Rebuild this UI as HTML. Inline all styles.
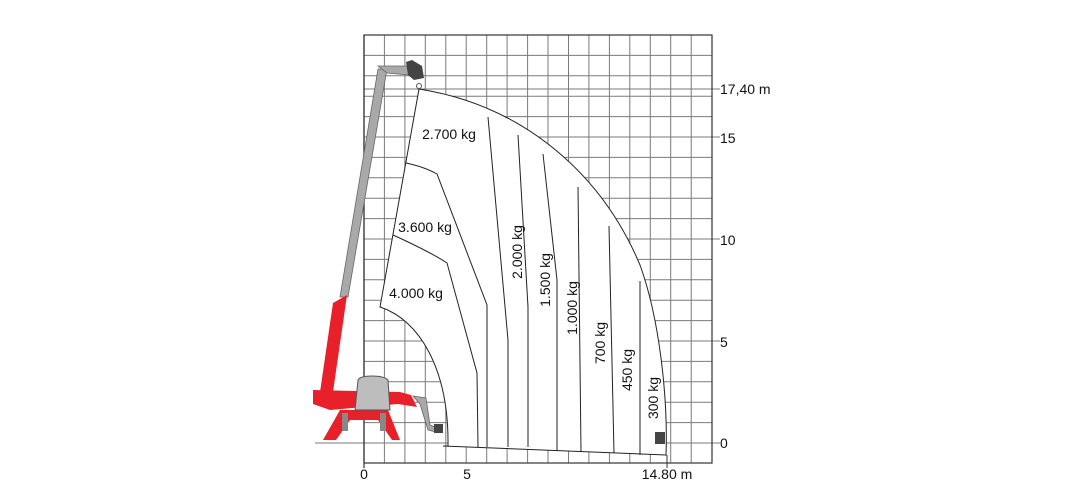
<!DOCTYPE html>
<html><head><meta charset="utf-8"><style>
html,body{margin:0;padding:0;background:#fff}
svg{display:block}
text{font-family:"Liberation Sans",Arial,sans-serif;fill:#111}
</style></head><body>
<svg width="1080" height="501" viewBox="0 0 1080 501" xmlns="http://www.w3.org/2000/svg">
<g stroke="#7a7a7a" stroke-width="1">
<line x1="384.4" y1="35" x2="384.4" y2="463"/><line x1="404.9" y1="35" x2="404.9" y2="463"/><line x1="425.3" y1="35" x2="425.3" y2="463"/><line x1="445.8" y1="35" x2="445.8" y2="463"/><line x1="466.2" y1="35" x2="466.2" y2="463"/><line x1="486.7" y1="35" x2="486.7" y2="463"/><line x1="507.1" y1="35" x2="507.1" y2="463"/><line x1="527.6" y1="35" x2="527.6" y2="463"/><line x1="548" y1="35" x2="548" y2="463"/><line x1="568.5" y1="35" x2="568.5" y2="463"/><line x1="588.9" y1="35" x2="588.9" y2="463"/><line x1="609.4" y1="35" x2="609.4" y2="463"/><line x1="629.8" y1="35" x2="629.8" y2="463"/><line x1="650.3" y1="35" x2="650.3" y2="463"/><line x1="670.7" y1="35" x2="670.7" y2="463"/><line x1="691.2" y1="35" x2="691.2" y2="463"/>
<line x1="364" y1="55.4" x2="712" y2="55.4"/><line x1="364" y1="75.8" x2="712" y2="75.8"/><line x1="364" y1="96.2" x2="712" y2="96.2"/><line x1="364" y1="116.6" x2="712" y2="116.6"/><line x1="364" y1="137" x2="712" y2="137"/><line x1="364" y1="157.4" x2="712" y2="157.4"/><line x1="364" y1="177.8" x2="712" y2="177.8"/><line x1="364" y1="198.2" x2="712" y2="198.2"/><line x1="364" y1="218.6" x2="712" y2="218.6"/><line x1="364" y1="239" x2="712" y2="239"/><line x1="364" y1="259.4" x2="712" y2="259.4"/><line x1="364" y1="279.8" x2="712" y2="279.8"/><line x1="364" y1="300.2" x2="712" y2="300.2"/><line x1="364" y1="320.6" x2="712" y2="320.6"/><line x1="364" y1="341" x2="712" y2="341"/><line x1="364" y1="361.4" x2="712" y2="361.4"/><line x1="364" y1="381.8" x2="712" y2="381.8"/><line x1="364" y1="402.2" x2="712" y2="402.2"/><line x1="364" y1="422.6" x2="712" y2="422.6"/><line x1="315" y1="443" x2="720" y2="443"/>
<line x1="364" y1="89" x2="720" y2="89"/>
<line x1="712" y1="137" x2="720" y2="137"/><line x1="712" y1="239" x2="720" y2="239"/><line x1="712" y1="341" x2="720" y2="341"/>
</g>
<rect x="364" y="35" width="348" height="428" fill="none" stroke="#333" stroke-width="1.2"/>
<line x1="364" y1="35" x2="364" y2="468" stroke="#333" stroke-width="1.2"/>
<line x1="667" y1="455" x2="667" y2="468" stroke="#333" stroke-width="1"/>
<path d="M419,89 C520,105 600,170 640,265 C660,320 668,400 666,455 L443,446 L448,446 C449,370 420,320 380,307 Z" fill="#fff" stroke="#222" stroke-width="1"/>
<g fill="none" stroke="#222" stroke-width="1">
<path d="M393,235 C415,245 435,255 447,263 L477,373 L478,447"/>
<path d="M406,163 C420,166 430,170 437,174 L487,305 L487,447"/>
<path d="M488,117 L508,340 L508,447"/>
<path d="M518,135 L528,307 L528,447"/>
<path d="M543,154 L557,280 L557,451"/>
<path d="M578,187 L581,452"/>
<path d="M609,226 L614,453"/>
<path d="M640,281 L640,455"/>
</g>
<!-- machine -->
<polygon points="378,69 387,69 348,297 340,297" fill="#a9a9a9" stroke="#666" stroke-width="0.8"/>
<polygon points="378,66 408,66 410,75 387,73" fill="#a9a9a9" stroke="#666" stroke-width="0.8"/>
<polygon points="406,62 412,60 422,66 424,78 414,80 408,75" fill="#444"/>
<circle cx="419" cy="86" r="2.5" fill="none" stroke="#555"/>
<polygon points="333,303 347,295 333,392 320,392" fill="#e8202a"/>
<polygon points="313,390 400,392 411,395 417,407 398,404 330,410 313,404" fill="#e8202a"/>
<polygon points="340,410 388,410 400,440 392,440 378,420 350,420 336,440 323,440" fill="#e8202a"/>
<rect x="342" y="413" width="6" height="18" fill="#888"/><rect x="380" y="413" width="6" height="18" fill="#888"/>
<path d="M355,410 L358,380 Q360,376 372,376 Q384,376 388,380 L390,410 Z" fill="#bdbdbd" stroke="#555" stroke-width="1"/>
<polygon points="413,396 426,398 430,425 438,428 436,432 428,430 420,404" fill="#a9a9a9" stroke="#666" stroke-width="0.8"/>
<rect x="434" y="424" width="9" height="9" fill="#444"/>
<rect x="655" y="432" width="10" height="12" fill="#444"/>
<g font-size="14">
<text x="449" y="139" text-anchor="middle">2.700 kg</text>
<text x="425" y="232" text-anchor="middle">3.600 kg</text>
<text x="416" y="298" text-anchor="middle">4.000 kg</text>
<text transform="translate(522,252) rotate(-90)" text-anchor="middle">2.000 kg</text>
<text transform="translate(550,280) rotate(-90)" text-anchor="middle">1.500 kg</text>
<text transform="translate(577,308) rotate(-90)" text-anchor="middle">1.000 kg</text>
<text transform="translate(605,343) rotate(-90)" text-anchor="middle">700 kg</text>
<text transform="translate(632,370) rotate(-90)" text-anchor="middle">450 kg</text>
<text transform="translate(658,398) rotate(-90)" text-anchor="middle">300 kg</text>
<text x="364" y="479" text-anchor="middle">0</text>
<text x="467" y="479" text-anchor="middle">5</text>
<text x="667" y="479" text-anchor="middle">14.80 m</text>
<text x="720" y="94">17,40 m</text>
<text x="720" y="143">15</text>
<text x="720" y="245">10</text>
<text x="720" y="347">5</text>
<text x="720" y="448">0</text>
</g>
</svg>
</body></html>
